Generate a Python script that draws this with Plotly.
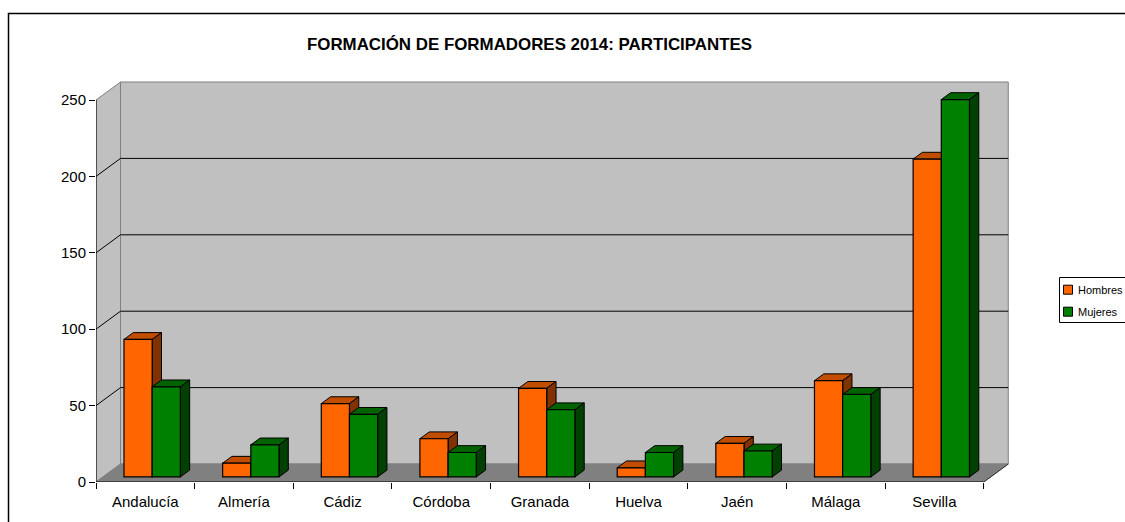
import plotly.graph_objects as go

# ---------------- data ----------------
categorias = ["Andalucía", "Almería", "Cádiz", "Córdoba", "Granada",
              "Huelva", "Jaén", "Málaga", "Sevilla"]
hombres = [90, 9, 48, 25, 58, 6, 22, 63, 208]
mujeres = [59, 21, 41, 16, 44, 16, 17, 54, 247]
serie_nombres = ["Hombres", "Mujeres"]
y_ticks = [0, 50, 100, 150, 200, 250]
titulo = "FORMACIÓN DE FORMADORES 2014: PARTICIPANTES"

# ---------------- geometry / style ----------------
W, H = 1125, 522
L, R, T, B = 96, 115, 80, 40
PX_X = 98.64          # pixels per category
PX_Y = 1.528          # pixels per value unit
plot_w = W - L - R
plot_h = H - T - B
xmax = plot_w / PX_X
ymax = plot_h / PX_Y
AXMAX = y_ticks[-1]
n = len(categorias)

DDX = 24.5 / PX_X     # chart depth (x, in category units)
DDY = 18.0 / PX_Y     # chart depth (y, in value units)
F0, F1 = 0.28, 0.66   # bar depth position (fraction of depth)
BW = 1 / 3.5          # bar width (gap width 150 %)
GAP0 = 0.75 * BW
bdx = (F1 - F0) * DDX
bdy = (F1 - F0) * DDY
base0 = F0 * DDY

FONT = "Liberation Sans, Arial, sans-serif"
col_front = ["#FF6600", "#008000"]
col_top = ["#C04D00", "#006300"]
col_side = ["#803300", "#004000"]
WALL = "#C0C0C0"
FLOOR = "#808080"
EDGE = "#808080"

fig = go.Figure()

series = [hombres, mujeres]

# top and side faces (scatter polygons) in drawing order
for k, vals in enumerate(series):
    tx, ty, sx, sy = [], [], [], []
    for i, v in enumerate(vals):
        x0 = i + GAP0 + k * BW + F0 * DDX
        x1 = x0 + BW
        yt = base0 + v
        tx += [x0, x1, x1 + bdx, x0 + bdx, x0, None]
        ty += [yt, yt, yt + bdy, yt + bdy, yt, None]
        sx += [x1, x1 + bdx, x1 + bdx, x1, x1, None]
        sy += [base0, base0 + bdy, yt + bdy, yt, base0, None]
    fig.add_trace(go.Scatter(x=tx, y=ty, mode="lines", fill="toself",
                             fillcolor=col_top[k], line=dict(color="black", width=1),
                             showlegend=False, hoverinfo="skip", zorder=0))
    fig.add_trace(go.Scatter(x=sx, y=sy, mode="lines", fill="toself",
                             fillcolor=col_side[k], line=dict(color="black", width=1),
                             showlegend=False, hoverinfo="skip", zorder=0))

# front faces (bars)
for k, vals in enumerate(series):
    xc = [i + GAP0 + k * BW + F0 * DDX + BW / 2 for i in range(n)]
    fig.add_trace(go.Bar(x=xc, y=vals, base=[base0] * n, width=BW,
                         name=serie_nombres[k],
                         marker=dict(color=col_front[k], line=dict(color="black", width=1.2)),
                         showlegend=False, zorder=1,
                         hovertext=categorias, hoverinfo="text+y"))

shapes = []
# side wall
shapes.append(dict(type="path", xref="x", yref="y", layer="below",
                   path=f"M0,0 L{DDX},{DDY} L{DDX},{AXMAX + DDY} L0,{AXMAX} Z",
                   fillcolor=WALL, line=dict(color=EDGE, width=1)))
# back wall
shapes.append(dict(type="rect", xref="x", yref="y", layer="below",
                   x0=DDX, x1=n + DDX, y0=DDY, y1=AXMAX + DDY,
                   fillcolor=WALL, line=dict(color=EDGE, width=1)))
# gridlines
for v in y_ticks[1:-1]:
    shapes.append(dict(type="line", xref="x", yref="y", layer="below",
                       x0=DDX, x1=n + DDX, y0=v + DDY, y1=v + DDY,
                       line=dict(color="black", width=1)))
    shapes.append(dict(type="line", xref="x", yref="y", layer="below",
                       x0=0, x1=DDX, y0=v, y1=v + DDY,
                       line=dict(color="black", width=1)))
# floor
shapes.append(dict(type="path", xref="x", yref="y", layer="below",
                   path=f"M0,0 L{n},0 L{n + DDX},{DDY} L{DDX},{DDY} Z",
                   fillcolor=FLOOR, line=dict(color=FLOOR, width=1)))
shapes.append(dict(type="line", xref="x", yref="y", layer="below",
                   x0=n, x1=n + DDX, y0=0, y1=DDY,
                   line=dict(color="#303030", width=1)))
# axis lines
shapes.append(dict(type="line", xref="x", yref="y", layer="above",
                   x0=0, x1=0, y0=0, y1=AXMAX, line=dict(color="black", width=1)))
shapes.append(dict(type="line", xref="x", yref="y", layer="above",
                   x0=0, x1=n, y0=0, y1=0, line=dict(color="black", width=1)))


def pxx(px):
    return (px - L) / plot_w


def pxy(py):
    return (H - B - py) / plot_h


# outer chart border
shapes.append(dict(type="rect", xref="paper", yref="paper",
                   x0=pxx(8.5), x1=pxx(1140), y0=pxy(13.5), y1=pxy(540),
                   line=dict(color="black", width=1.5), fillcolor="rgba(0,0,0,0)"))

# legend
shapes.append(dict(type="rect", xref="paper", yref="paper",
                   x0=pxx(1059.5), x1=pxx(1140), y0=pxy(277.5), y1=pxy(322.5),
                   line=dict(color="black", width=1), fillcolor="white"))
annotations = []
leg_y = [289.7, 311.7]
for k in range(2):
    shapes.append(dict(type="rect", xref="paper", yref="paper",
                       x0=pxx(1063.5), x1=pxx(1072.5),
                       y0=pxy(leg_y[k] - 4.5), y1=pxy(leg_y[k] + 4.5),
                       line=dict(color="black", width=1), fillcolor=col_front[k]))
    annotations.append(dict(xref="paper", yref="paper", x=pxx(1075.5), y=pxy(leg_y[k]),
                            xanchor="left", yanchor="middle", showarrow=False,
                            text=serie_nombres[k],
                            font=dict(family=FONT, size=11, color="black")))

fig.update_layout(
    width=W, height=H,
    margin=dict(l=L, r=R, t=T, b=B, pad=0),
    paper_bgcolor="white", plot_bgcolor="white",
    title=dict(text=titulo, xref="container", yref="container",
               x=529.5 / W, y=1 - 44 / H, xanchor="center", yanchor="middle",
               font=dict(family=FONT, size=16.9, color="black", weight="bold")),
    xaxis=dict(range=[0, xmax], showgrid=False, zeroline=False, showline=False,
               tickmode="array", tickvals=[i + 0.5 for i in range(n)], ticktext=categorias,
               ticks="outside", ticklen=6, tickcolor="rgba(0,0,0,0)",
               tickfont=dict(family=FONT, size=15, color="black"),
               minor=dict(tickmode="array", tickvals=list(range(n + 1)), ticks="outside",
                          ticklen=6, tickcolor="black", tickwidth=1, showgrid=False),
               fixedrange=True),
    yaxis=dict(range=[0, ymax], showgrid=False, zeroline=False, showline=False,
               tickmode="array", tickvals=y_ticks,
               ticks="outside", ticklen=6, tickcolor="black", tickwidth=1,
               tickfont=dict(family=FONT, size=15, color="black"),
               fixedrange=True),
    shapes=shapes,
    annotations=annotations,
    showlegend=False,
    barmode="overlay",
)

fig.write_html("out.html", config={"displayModeBar": False},
               post_script="document.body.style.margin='0';document.body.style.overflow='hidden';")
